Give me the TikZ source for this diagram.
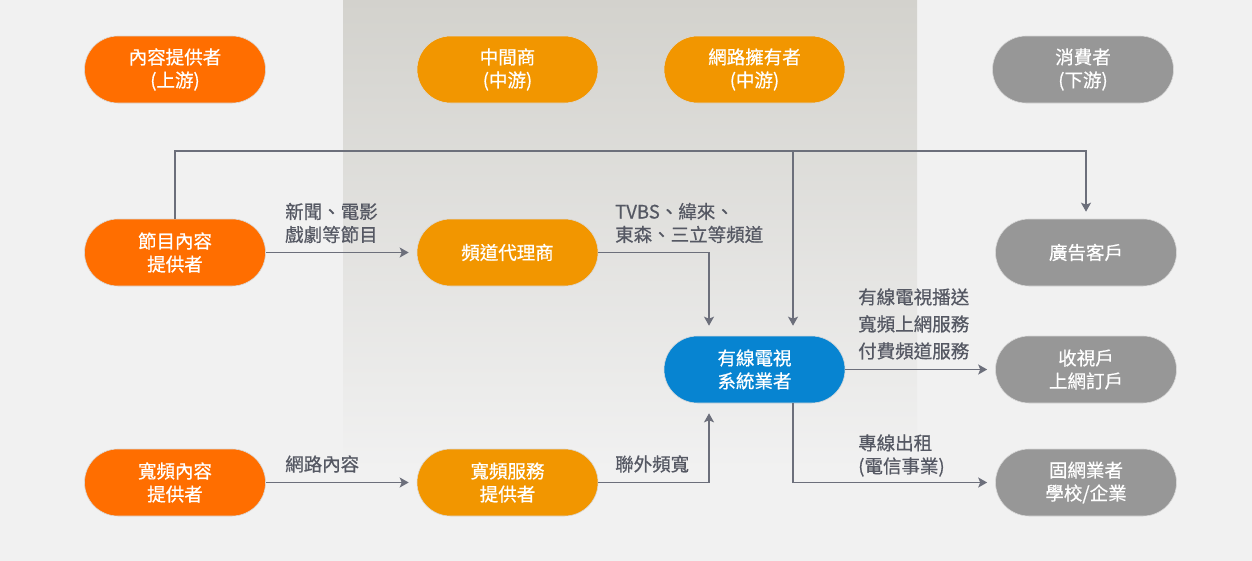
\documentclass[tikz,border=0pt]{standalone}
\usepackage{fontspec}
\setmainfont[FakeBold=0.6]{Noto Sans CJK TC}
\newfontfamily\cjkb[FakeBold=0.6]{Noto Sans CJK TC}
\usetikzlibrary{arrows.meta}
\definecolor{bg}{HTML}{F1F1F1}
\definecolor{bandtop}{HTML}{D3D2CD}
\definecolor{cOrange}{HTML}{FF6E00}
\definecolor{cAmber}{HTML}{F29600}
\definecolor{cBlue}{HTML}{0784D1}
\definecolor{cGray}{HTML}{979797}
\definecolor{cLine}{HTML}{6C6F7B}
\definecolor{cText}{HTML}{555863}
\tikzset{
  pill/.style={rectangle, rounded corners=33.5pt, minimum width=181pt, minimum height=67pt,
    inner sep=0pt, align=center, text=white, draw=white!85!black, line width=0.6pt,
    font=\cjkb\fontsize{18.5}{23}\selectfont},
  orangepill/.style={pill, fill=cOrange},
  amberpill/.style={pill, fill=cAmber},
  bluepill/.style={pill, fill=cBlue},
  graypill/.style={pill, fill=cGray},
  lbl/.style={inner sep=0pt, align=left, text=cText, font=\cjkb\fontsize{18.5}{23}\selectfont},
  conn/.style={draw=cLine, line width=1.4pt, -{Stealth[length=9pt,width=10pt,inset=2pt]}}
}
\begin{document}
\begin{tikzpicture}[x=1pt,y=-1pt]
\useasboundingbox (0,0) rectangle (1252,560);
\fill[bg] (-10,-10) rectangle (1262,570);
\shade[top color=bandtop, bottom color=bg] (343,0) rectangle (917,470);

% header row
\node[orangepill] (up) at (175,69.5) {內容提供者\\(上游)};
\node[amberpill] (mid) at (507.5,69.5) {中間商\\(中游)};
\node[amberpill] (net) at (754.5,69.5) {網路擁有者\\(中游)};
\node[graypill] (down) at (1083,69.5) {消費者\\(下游)};

% row 2
\node[orangepill] (jm) at (175,252.5) {節目內容\\提供者};
\node[amberpill] (pd) at (507.5,252.5) {頻道代理商};
\node[graypill] (ad) at (1086,252.5) {廣告客戶};

% row 3
\node[bluepill] (cab) at (754.5,369.5) {有線電視\\系統業者};
\node[graypill] (sub) at (1086,369.5) {收視戶\\上網訂戶};

% row 4
\node[orangepill] (bc) at (175,482.5) {寬頻內容\\提供者};
\node[amberpill] (bs) at (507.5,482.5) {寬頻服務\\提供者};
\node[graypill] (fix) at (1086,482.5) {固網業者\\學校/企業};

% helper coordinates
\coordinate (top) at (0,151);
\coordinate (cabR) at ([xshift=38.5pt]cab.north);
\coordinate (cabRb) at ([xshift=38.5pt]cab.south);
\coordinate (cabL) at ([xshift=-45.5pt]cab.north);
\coordinate (cabLb) at ([xshift=-45.5pt]cab.south);

% connectors
\draw[conn, shorten >=7pt] (jm.north) -- (jm.north |- top) -| (ad.north);
\draw[conn, shorten >=10pt] (cabR |- top) -- (cabR);
\draw[conn, shorten >=8pt] (jm.east) -- (pd.west);
\draw[conn, shorten >=10pt] (pd.east) -| (cabL);
\draw[conn, shorten >=8pt] (bc.east) -- (bs.west);
\draw[conn, shorten >=10pt] (bs.east) -| (cabLb);
\draw[conn, shorten >=8pt] (cab.east) -- (sub.west);
\draw[conn, shorten >=8pt] (cabRb) |- (fix.west);

% labels
\node[lbl, anchor=west] (l1) at (285,223) {新聞、電影\\戲劇等節目};
\node[lbl, anchor=west] (l2) at (615,223) {TVBS、緯來、\\東森、三立等頻道};
\node[lbl, anchor=west, font=\cjkb\fontsize{18.5}{27}\selectfont] (l3) at (858,324) {有線電視播送\\寬頻上網服務\\付費頻道服務};
\node[lbl, anchor=west] (l4) at (858,455.5) {專線出租\\(電信事業)};
\node[lbl, anchor=west] (l5) at (285,464) {網路內容};
\node[lbl, anchor=west] (l6) at (615,464) {聯外頻寬};
\end{tikzpicture}
\end{document}
